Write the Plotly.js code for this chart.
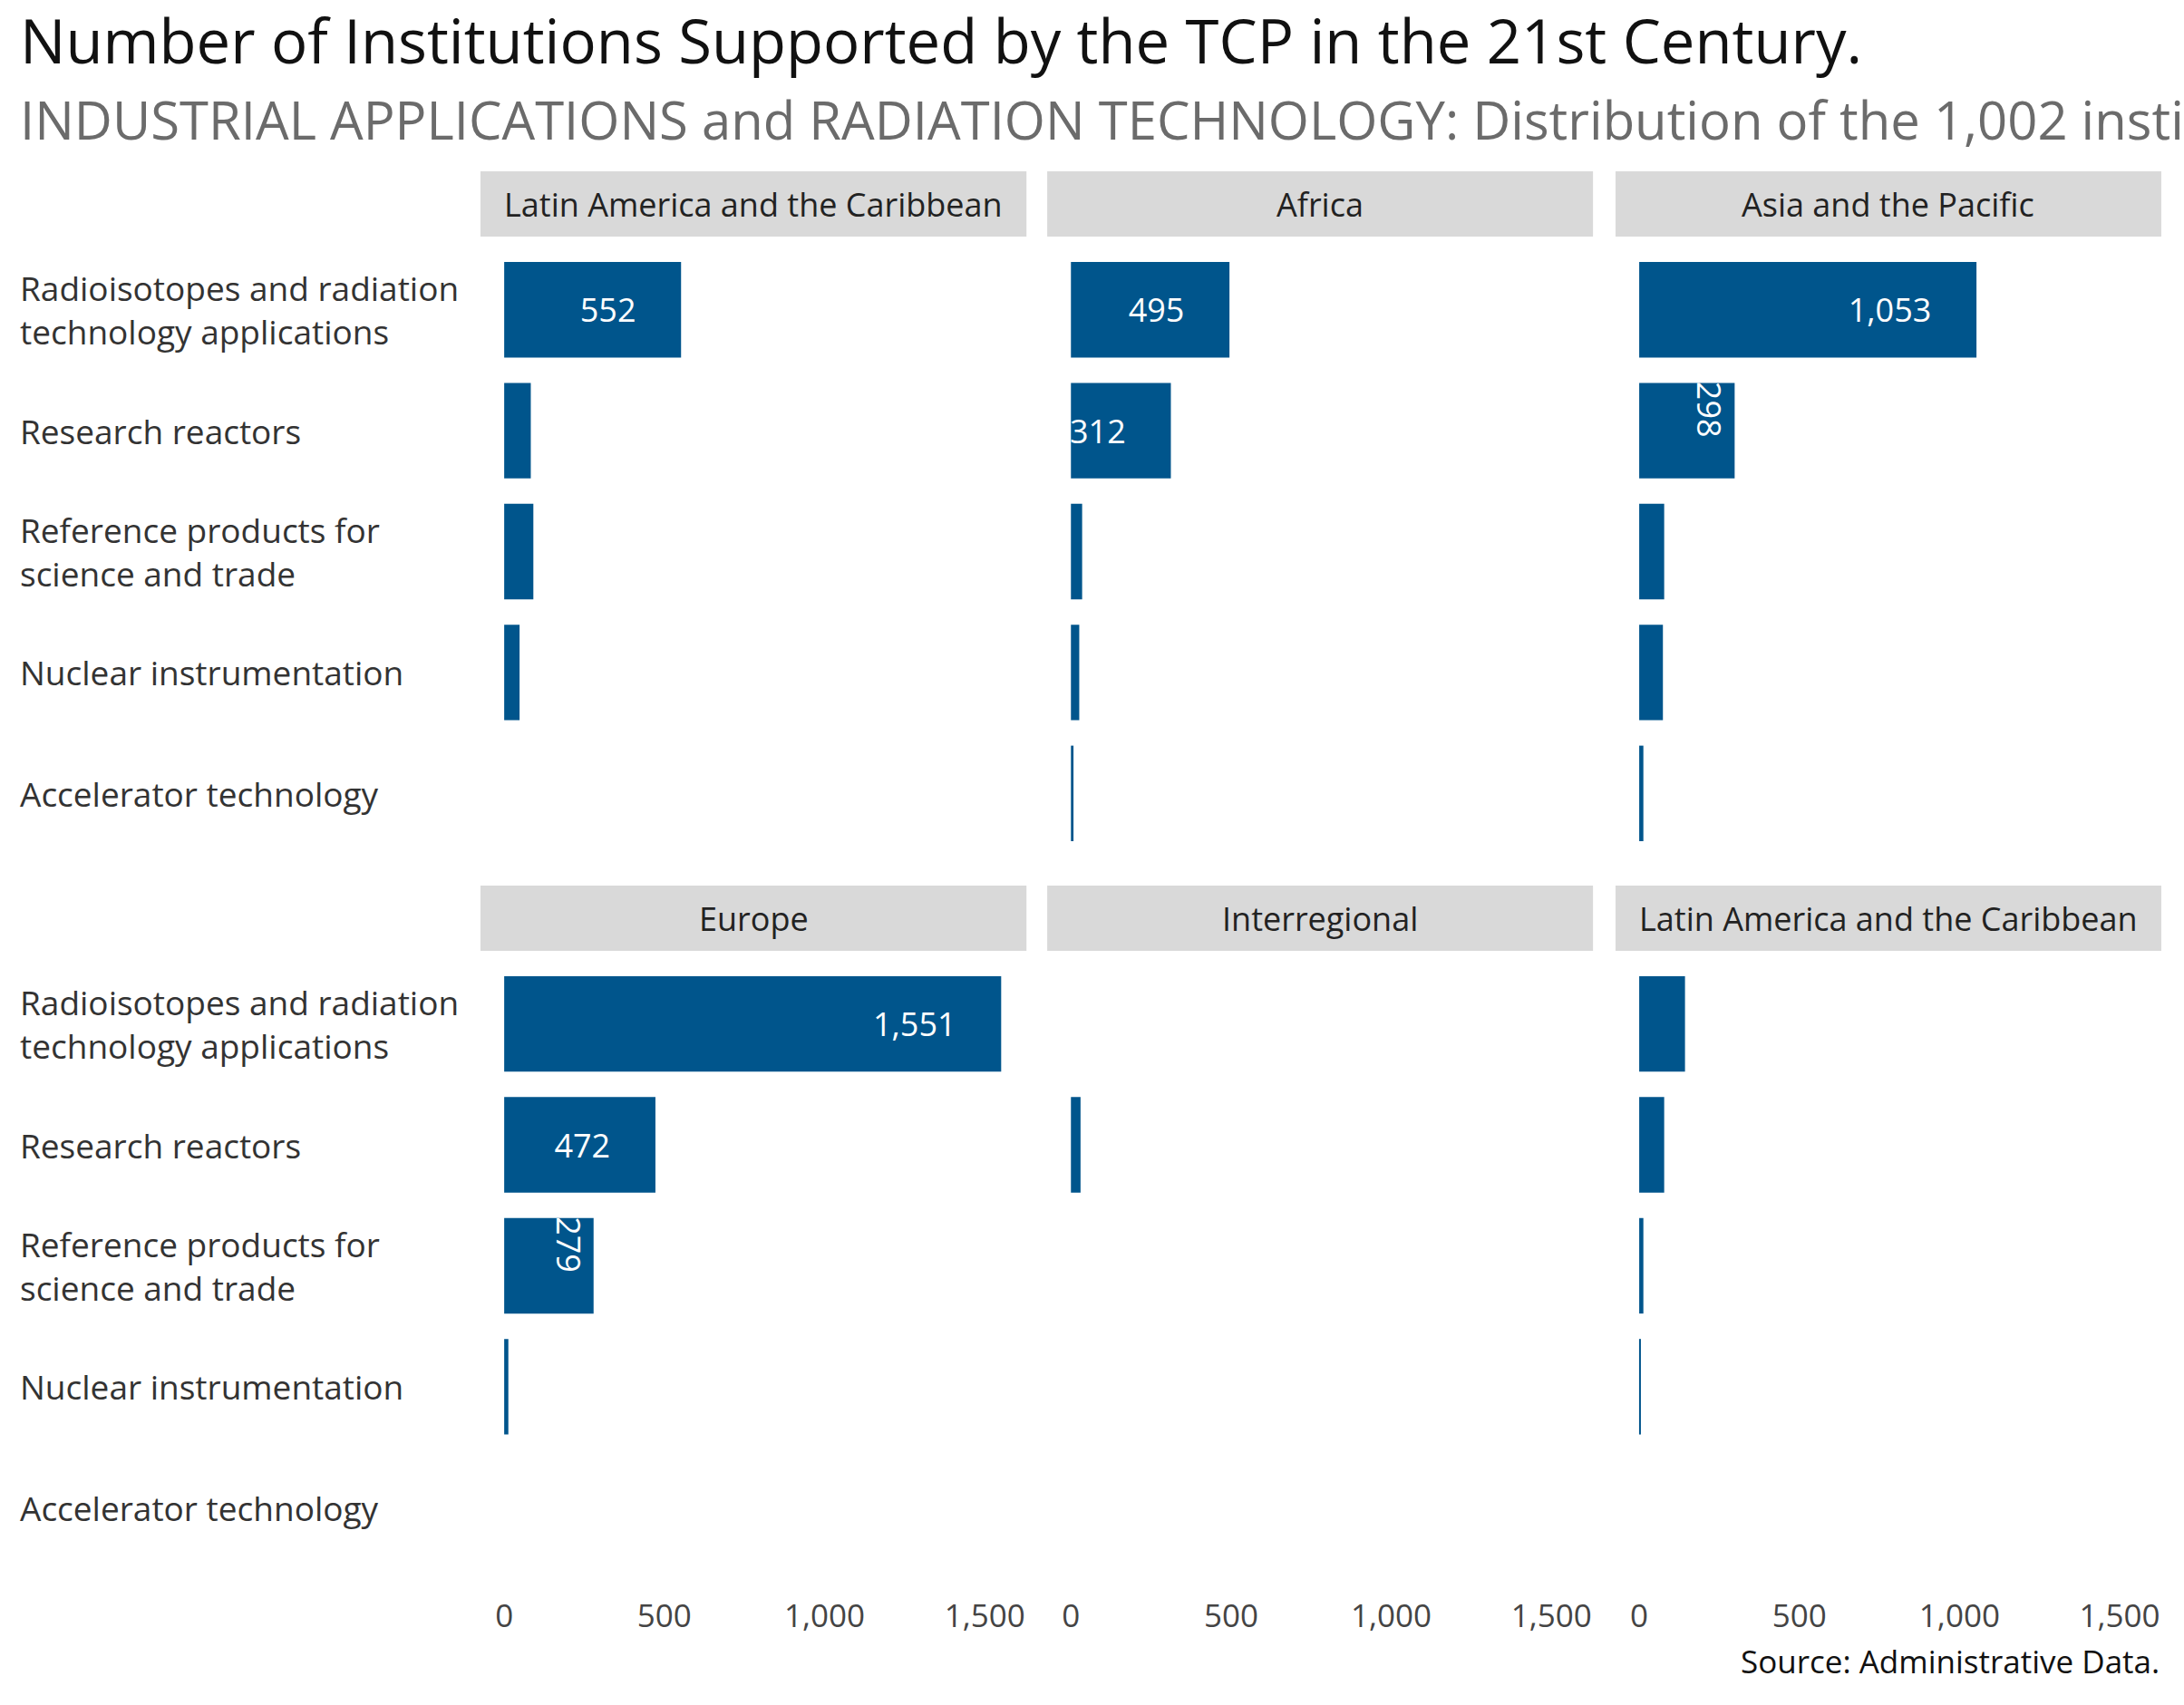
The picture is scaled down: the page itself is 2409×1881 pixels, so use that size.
<!DOCTYPE html>
<html>
<head>
<meta charset="utf-8">
<script src="https://cdn.plot.ly/plotly-3.0.1.min.js"></script>
<style>body{margin:0;background:#fff}</style>
</head>
<body>
<div id="chart" style="width:2409px;height:1881px"></div>
<script>
var categories = ['Radioisotopes and radiation technology applications', 'Research reactors',
  'Reference products for science and trade', 'Nuclear instrumentation', 'Accelerator technology'];
var catLabels = ['Radioisotopes and radiation<br>technology applications', 'Research reactors',
  'Reference products for<br>science and trade', 'Nuclear instrumentation', 'Accelerator technology'];
var panels = ['Latin America and the Caribbean', 'Africa', 'Asia and the Pacific',
  'Europe', 'Interregional', 'Latin America and the Caribbean'];
var latamValues = [552, 83, 91, 48, 0];
var africaValues = [495, 312, 35, 26, 8];
var asiaValues = [1053, 298, 78, 74, 13];
var europeValues = [1551, 472, 279, 13, 0];
var interValues = [0, 30, 0, 0, 0];
var latam2Values = [143, 78, 13, 4, 0];
var allValues = [latamValues, africaValues, asiaValues, europeValues, interValues, latam2Values];

var blue = '#00558c';
var xDom = [[0.220, 0.470], [0.4795, 0.7294], [0.7397, 0.9896]];
var yDom = [[0.4992, 0.8538], [0.0803, 0.4349]];
var stripY = [[0.8612, 0.8995], [0.4423, 0.4806]];
var pad = '\u00a0\u00a0\u00a0\u00a0\u00a0';

var data = [];
var layout = {
  width: 2409, height: 1881,
  margin: {l: 0, r: 0, t: 0, b: 0},
  paper_bgcolor: '#fff', plot_bgcolor: '#fff',
  font: {family: 'Open Sans', color: '#333', size: 34},
  showlegend: false,
  shapes: [], annotations: []
};

for (var i = 0; i < 6; i++) {
  var r = Math.floor(i / 3), c = i % 3, n = i + 1;
  var vals = allValues[i];
  data.push({
    type: 'bar', orientation: 'h',
    x: vals, y: categories,
    xaxis: 'x' + n, yaxis: 'y' + n,
    marker: {color: blue}, width: 0.79,
    text: vals.map(function (v) { return v >= 200 ? v.toLocaleString('en-US') + pad : ''; }),
    textposition: 'inside', insidetextanchor: 'end',
    textfont: {color: '#fff', size: 36, family: 'Open Sans'},
    constraintext: 'none',
    hoverinfo: 'x+y'
  });
  layout['xaxis' + n] = {
    domain: xDom[c], anchor: 'y' + n, range: [-74, 1630],
    tickvals: [0, 500, 1000, 1500], ticktext: ['0', '500', '1,000', '1,500'],
    showticklabels: r === 1, showgrid: false, zeroline: false,
    tickfont: {size: 35, color: '#444'}, ticks: 'outside', ticklen: 22, tickcolor: 'rgba(0,0,0,0)'
  };
  layout['yaxis' + n] = {
    domain: yDom[r], anchor: 'x' + n, type: 'category',
    categoryorder: 'array', categoryarray: categories,
    autorange: 'reversed', showticklabels: false, showgrid: false, zeroline: false
  };
  layout.shapes.push({
    type: 'rect', xref: 'paper', yref: 'paper',
    x0: xDom[c][0], x1: xDom[c][1], y0: stripY[r][0], y1: stripY[r][1],
    fillcolor: '#d9d9d9', line: {width: 0}, layer: 'below'
  });
  layout.annotations.push({
    xref: 'paper', yref: 'paper', x: (xDom[c][0] + xDom[c][1]) / 2,
    y: (stripY[r][0] + stripY[r][1]) / 2, text: panels[i], showarrow: false,
    font: {size: 36, color: '#222'}, xanchor: 'center', yanchor: 'middle'
  });
}

for (var r2 = 0; r2 < 2; r2++) {
  var ya = r2 === 0 ? 'y1' : 'y4';
  for (var k = 0; k < categories.length; k++) {
    layout.annotations.push({
      xref: 'paper', yref: ya, x: 0.0085, y: categories[k], text: catLabels[k],
      showarrow: false, xanchor: 'left', yanchor: 'middle', align: 'left',
      font: {size: 37, color: '#333'}
    });
  }
}

layout.annotations.push({
  xref: 'paper', yref: 'paper', x: 0.0085, y: 1.002, xanchor: 'left', yanchor: 'top',
  text: 'Number of Institutions Supported by the TCP in the 21st Century.',
  showarrow: false, font: {size: 67, color: '#111'}
});
layout.annotations.push({
  xref: 'paper', yref: 'paper', x: 0.0085, y: 0.952, xanchor: 'left', yanchor: 'top',
  text: 'INDUSTRIAL APPLICATIONS and RADIATION TECHNOLOGY: Distribution of the 1,002 institutions by region and field of activity.',
  showarrow: false, font: {size: 58, color: '#6b6b6b'}
});
layout.annotations.push({
  xref: 'paper', yref: 'paper', x: 0.9896, y: 0.012, xanchor: 'right', yanchor: 'bottom',
  text: 'Source: Administrative Data.', showarrow: false, font: {size: 35, color: '#111'}
});

Plotly.newPlot('chart', data, layout, {displayModeBar: false});
</script>
</body>
</html>
